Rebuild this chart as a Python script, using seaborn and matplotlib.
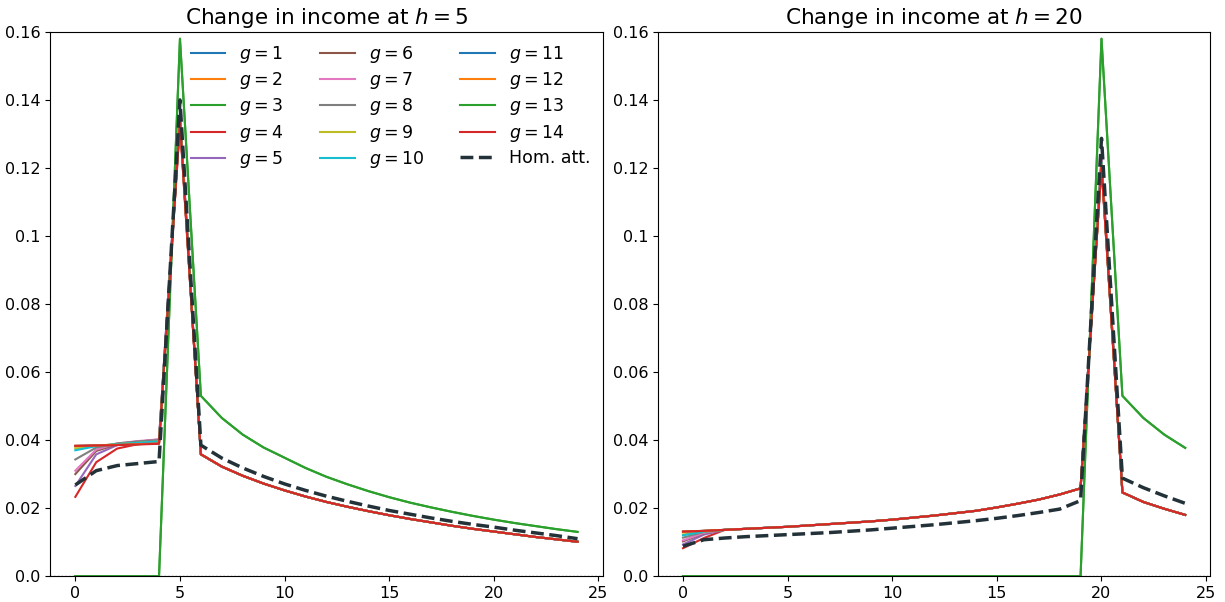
import numpy as np
import pandas as pd
import matplotlib
matplotlib.use('Agg')
import matplotlib.pyplot as plt
import seaborn as sns
from matplotlib.ticker import FuncFormatter

t = list(range(25))
groups = [f'$g = {g}$' for g in range(1, 15)]

# h = 5 : pre-period (t = 0..4) by group, peak at t = 5, common decay after
pre5 = {
    1: [0.0382, 0.0384, 0.0387, 0.0390, 0.0393],
    2: [0.0381, 0.0384, 0.0387, 0.0390, 0.0393],
    4: [0.0233, 0.0335, 0.0375, 0.0388, 0.0393],
    5: [0.0265, 0.0358, 0.0385, 0.0395, 0.0402],
    6: [0.0300, 0.0368, 0.0388, 0.0396, 0.0400],
    7: [0.0310, 0.0372, 0.0390, 0.0397, 0.0402],
    8: [0.0343, 0.0378, 0.0390, 0.0396, 0.0400],
    9: [0.0375, 0.0383, 0.0388, 0.0392, 0.0396],
    10: [0.0370, 0.0382, 0.0388, 0.0392, 0.0396],
    11: [0.0383, 0.0384, 0.0386, 0.0388, 0.0390],
    12: [0.0383, 0.0384, 0.0386, 0.0388, 0.0390],
    14: [0.0383, 0.0384, 0.0385, 0.0387, 0.0389],
}
peak5 = {1: 0.1345, 2: 0.1345, 4: 0.1330, 5: 0.1360, 6: 0.1350, 7: 0.1355,
         8: 0.1350, 9: 0.1345, 10: 0.1345, 11: 0.1340, 12: 0.1340, 14: 0.1335}
post5 = [0.0358, 0.0322, 0.0295, 0.0272, 0.0252, 0.0234, 0.0218, 0.0204, 0.0191,
         0.0179, 0.0168, 0.0158, 0.0148, 0.0139, 0.0131, 0.0123, 0.0115, 0.0108, 0.0101]
treated5 = [0.0, 0.0, 0.0, 0.0, 0.0, 0.158, 0.053, 0.0465, 0.0416, 0.0378, 0.0348,
            0.0318, 0.0292, 0.0270, 0.0250, 0.0232, 0.0216, 0.0202, 0.0189, 0.0177,
            0.0166, 0.0156, 0.0147, 0.0138, 0.0130]
hom5 = [0.0268, 0.0310, 0.0325, 0.0331, 0.0337, 0.1400, 0.0385, 0.0347, 0.0318,
        0.0293, 0.0271, 0.0252, 0.0235, 0.0220, 0.0206, 0.0193, 0.0182, 0.0171,
        0.0161, 0.0152, 0.0144, 0.0135, 0.0127, 0.0119, 0.0110]

# h = 20 : first two periods by group, common rise, peak at t = 20
start20 = {
    1: [0.0130, 0.0133], 2: [0.0129, 0.0133], 4: [0.0082, 0.0112],
    5: [0.0093, 0.0122], 6: [0.0102, 0.0126], 7: [0.0105, 0.0127],
    8: [0.0113, 0.0130], 9: [0.0122, 0.0131], 10: [0.0120, 0.0131],
    11: [0.0131, 0.0133], 12: [0.0131, 0.0133], 14: [0.0131, 0.0133],
}
rise20 = [0.0136, 0.0139, 0.0142, 0.0145, 0.0149, 0.0153, 0.0157, 0.0161, 0.0166,
          0.0172, 0.0178, 0.0185, 0.0192, 0.0202, 0.0213, 0.0225, 0.0240, 0.0258]
peak20 = {1: 0.1215, 2: 0.1215, 4: 0.1205, 5: 0.1230, 6: 0.1225, 7: 0.1225,
          8: 0.1220, 9: 0.1215, 10: 0.1215, 11: 0.1210, 12: 0.1210, 14: 0.1205}
post20 = [0.0246, 0.0218, 0.0198, 0.0180]
treated20 = [0.0] * 20 + [0.158, 0.053, 0.0465, 0.0416, 0.0377]
hom20 = [0.0088, 0.0107, 0.0112, 0.0116, 0.0119, 0.0122, 0.0125, 0.0128, 0.0132,
         0.0136, 0.0141, 0.0146, 0.0151, 0.0157, 0.0163, 0.0170, 0.0178, 0.0187,
         0.0197, 0.0222, 0.1287, 0.0288, 0.0260, 0.0236, 0.0214]


def build(pre, peak, post, treated, extra=None):
    rows = []
    for g in range(1, 15):
        if g in (3, 13):
            vals = treated
        elif extra is None:
            vals = pre[g] + [peak[g]] + post
        else:
            vals = pre[g] + extra + [peak[g]] + post
        for ti, v in zip(t, vals):
            rows.append({'t': ti, 'value': v, 'group': f'$g = {g}$'})
    return pd.DataFrame(rows)


df5 = build(pre5, peak5, post5, treated5)
df20 = build(start20, peak20, post20, treated20, extra=rise20)

tab10 = sns.color_palette('tab10')
palette = {lab: tab10[i % 10] for i, lab in enumerate(groups)}

fig, axes = plt.subplots(1, 2, figsize=(12.25, 6.02), dpi=100)
plt.subplots_adjust(left=0.041, right=0.988, bottom=0.043, top=0.947, wspace=0.1)

panels = [(axes[0], df5, hom5, 5), (axes[1], df20, hom20, 20)]
for ax, df, hom, h in panels:
    sns.lineplot(data=df, x='t', y='value', hue='group', hue_order=groups,
                 palette=palette, linewidth=1.5, ax=ax, legend=(h == 5))
    sns.lineplot(x=t, y=hom, color='#233238', linestyle='--', linewidth=2.5,
                 label='Hom. att.' if h == 5 else None, ax=ax)
    ax.axhline(0, color='gray', linestyle=':', linewidth=1)
    ax.set_ylim(0, 0.16)
    ax.set_yticks(np.arange(0, 0.161, 0.02))
    ax.yaxis.set_major_formatter(FuncFormatter(lambda v, p: str(round(v, 2))))
    ax.set_xticks([0, 5, 10, 15, 20, 25])
    ax.set_xlabel('')
    ax.set_ylabel('')
    ax.tick_params(labelsize=11.5)
    ax.set_title(f'Change in income at $h = {h}$', fontsize=15.5)

axes[0].legend(ncol=3, loc='upper right', frameon=False, fontsize=12.5,
               labelspacing=0.3, columnspacing=2.1, borderaxespad=0.3)
if axes[1].get_legend() is not None:
    axes[1].get_legend().remove()

plt.savefig('out.png', dpi=100)
